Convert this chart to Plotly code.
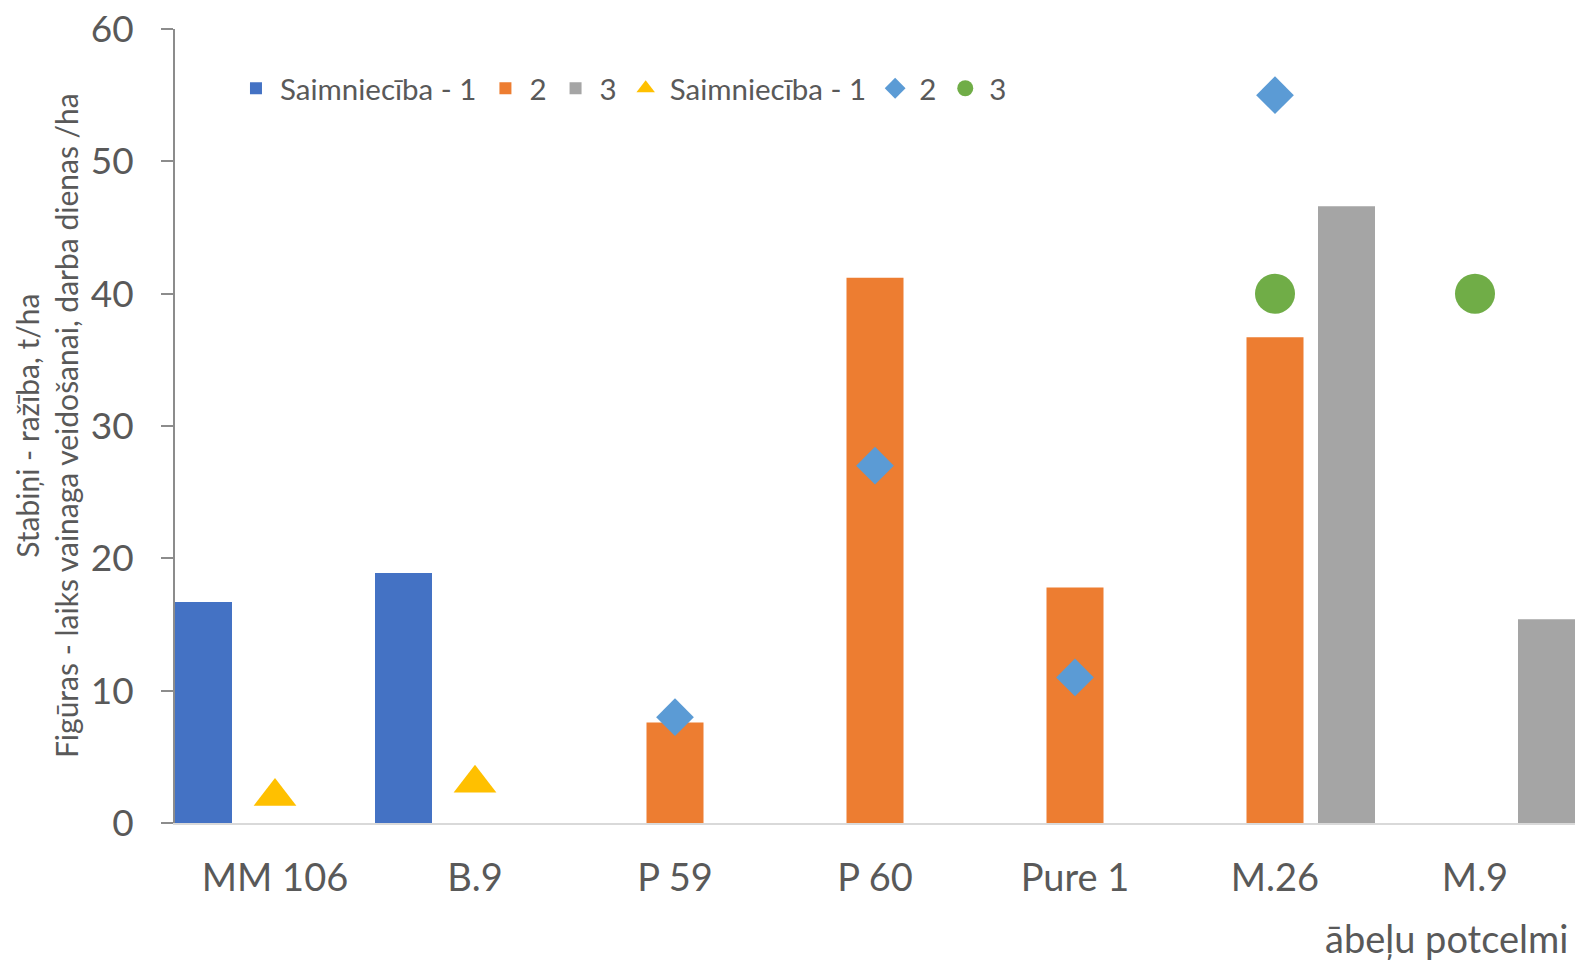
import plotly.graph_objects as go

categories = ["MM 106", "B.9", "P 59", "P 60", "Pure 1", "M.26", "M.9"]

# Bars (Stabiņi - ražība, t/ha)
bar_s1 = [16.7, 18.9, None, None, None, None, None]
bar_s2 = [None, None, 7.6, 41.2, 17.8, 36.7, None]
bar_s3 = [None, None, None, None, None, 46.6, 15.4]

# Markers (Figūras - laiks vainaga veidošanai, darba dienas /ha)
pt_s1 = [2, 3, None, None, None, None, None]
pt_s2 = [None, None, 8, 27, 11, 55, None]
pt_s3 = [None, None, None, None, None, 40, 40]

bar_names = ["Saimniecība - 1", "2", "3"]
pt_names = ["Saimniecība - 1", "2", "3"]

FONT = "Lato"
TXT = "#595959"

fig = go.Figure()

bar_colors = ["#4472C4", "#ED7D31", "#A5A5A5"]
bar_w = 0.285
centers = [-0.3575, 0.0, 0.3575]
for vals, name, col, c in zip([bar_s1, bar_s2, bar_s3], bar_names, bar_colors, centers):
    fig.add_trace(go.Bar(
        x=categories, y=vals, name=name,
        marker=dict(color=col, line=dict(width=0)),
        width=bar_w, offset=c - bar_w / 2,
    ))

pt_styles = [
    dict(symbol="triangle-up", color="#FFC000", size=37),
    dict(symbol="diamond", color="#5B9BD5", size=29),
    dict(symbol="circle", color="#70AD47", size=40),
]
for vals, name, st in zip([pt_s1, pt_s2, pt_s3], pt_names, pt_styles):
    fig.add_trace(go.Scatter(
        x=categories, y=vals, name=name, mode="markers",
        marker=dict(symbol=st["symbol"], color=st["color"], size=st["size"],
                    line=dict(width=0)),
    ))

fig.update_layout(
    width=1575, height=966,
    margin=dict(l=175, r=0, t=29, b=143),
    paper_bgcolor="white", plot_bgcolor="white",
    font=dict(family=FONT, color=TXT),
    barmode="group",
    showlegend=True,
    legend=dict(
        orientation="h", x=0.0407, xanchor="left", y=0.925, yanchor="middle",
        font=dict(size=29.5, color=TXT, family=FONT),
        bgcolor="rgba(0,0,0,0)", itemwidth=38, tracegroupgap=0,
    ),
    xaxis=dict(
        type="category", range=[-0.5, 6.5],
        showline=True, linecolor="#D9D9D9", linewidth=2,
        ticks="", showgrid=False, zeroline=False,
        tickfont=dict(size=38, color=TXT, family=FONT),
        ticklabelstandoff=20,
    ),
    yaxis=dict(
        range=[0, 60], dtick=10, tick0=0,
        showline=True, linecolor="#8C8C8C", linewidth=2,
        ticks="outside", ticklen=12, tickcolor="#8C8C8C", tickwidth=2,
        showgrid=False, zeroline=False,
        tickfont=dict(size=37, color=TXT, family=FONT),
        ticklabelstandoff=20, ticklabeloverflow="allow",
    ),
    annotations=[
        dict(
            text="Stabiņi - ražība, t/ha<br>Figūras - laiks vainaga veidošanai, darba dienas /ha",
            xref="paper", yref="paper", x=-0.0921, y=0.5,
            xanchor="center", yanchor="middle", textangle=-90,
            showarrow=False, font=dict(size=30, color=TXT, family=FONT),
        ),
        dict(
            text="ābeļu potcelmi",
            xref="paper", yref="paper", x=0.9964, y=-0.1448,
            xanchor="right", yanchor="middle",
            showarrow=False, font=dict(size=38, color=TXT, family=FONT),
        ),
    ],
)

fig.write_html(
    "out.html",
    config={"displayModeBar": False},
    post_script="document.body.style.margin='0px';document.body.style.overflow='hidden';",
)
